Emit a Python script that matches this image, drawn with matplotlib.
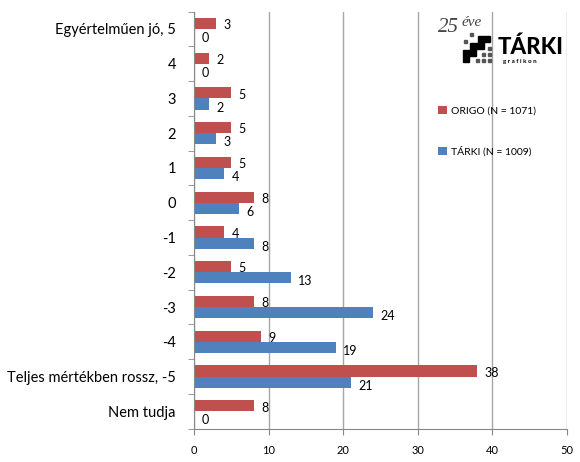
import numpy as np
import matplotlib.pyplot as plt
from matplotlib.patches import Rectangle, Polygon

plt.rcParams["font.family"] = ["Lato", "DejaVu Sans"]

categories = ["Egyértelműen jó, 5", "4", "3", "2", "1", "0", "-1", "-2", "-3", "-4",
              "Teljes mértékben rossz, -5", "Nem tudja"]
origo = [3, 2, 5, 5, 5, 8, 4, 5, 8, 9, 38, 8]
tarki = [0, 0, 2, 3, 4, 6, 8, 13, 24, 19, 21, 0]
xticks = [0, 10, 20, 30, 40, 50]

red = "#C0504D"
blue = "#4F81BD"

W, H = 580, 462
def px(x, y):
    # pixel position -> figure fraction
    return x / W, 1 - y / H

fig = plt.figure(figsize=(5.8, 4.62), dpi=100)
ax = fig.add_axes([0.3345, 0.072, 0.643, 0.903])

y = np.arange(len(categories))
h = 0.32
b1 = ax.barh(y - h / 2, origo, height=h, color=red, label="ORIGO (N = 1071)")
b2 = ax.barh(y + h / 2, tarki, height=h, color=blue, label="TÁRKI (N = 1009)")

for yy, v in zip(y - h / 2, origo):
    ax.text(v + 1.0, yy + 0.05, str(v), va="center", ha="left", fontsize=9)
for yy, v in zip(y + h / 2, tarki):
    ax.text(v + 1.0, yy + 0.1, str(v), va="center", ha="left", fontsize=9)

ax.set_ylim(len(categories) - 0.5, -0.5)
ax.set_xlim(0, 50)
ax.set_yticks(y)
ax.set_yticklabels(categories, fontsize=10.5)
ax.set_yticks(np.arange(len(categories) + 1) - 0.5, minor=True)
ax.tick_params(axis="y", which="major", length=0, pad=13)
ax.tick_params(axis="y", which="minor", length=4, color="#888888", direction="out")
ax.set_xticks(xticks)
ax.set_xticklabels([str(t) for t in xticks], fontsize=8)
ax.tick_params(axis="x", length=4, color="#888888", pad=8)

ax.grid(axis="x", color="#A6A6A6", linewidth=1)
ax.set_axisbelow(True)
for s in ["top", "right"]:
    ax.spines[s].set_visible(False)
ax.spines["left"].set_color("#888888")
ax.spines["bottom"].set_color("#888888")

ax.legend(handles=[b1, b2], loc="upper left", bbox_to_anchor=(0.63, 0.795),
          frameon=False, fontsize=7.5, labelspacing=2.9,
          handlelength=0.8, handleheight=0.8, handletextpad=0.4)

# logo
fig.text(*px(438, 32), "25", fontsize=15, family="Liberation Serif", style="italic", color="#444444")
fig.text(*px(462, 26), "éve", fontsize=11, family="Liberation Serif", style="italic", color="#444444")
fig.text(*px(498, 54), "TÁRKI", fontsize=16, weight="black", color="black")
fig.text(*px(503, 63), "g r a f i k o n", fontsize=4.5, weight="bold", color="black")
stair = [(463, 62), (463, 50), (470, 50), (470, 43), (478, 43), (478, 36), (490, 36),
         (490, 42), (484, 42), (484, 49), (476, 49), (476, 56), (469, 56), (469, 62)]
fig.patches.append(Polygon([px(a, b) for a, b in stair], closed=True,
                           transform=fig.transFigure, color="black"))
for a, b in [(470, 36), (464, 43), (482, 56), (488, 56), (488, 50), (476, 62), (482, 62), (488, 62)]:
    fig.patches.append(Rectangle(px(a, b), 2.5 / W, 2.5 / H, transform=fig.transFigure,
                                 color="#555555"))

fig.savefig("out.png", dpi=100)
